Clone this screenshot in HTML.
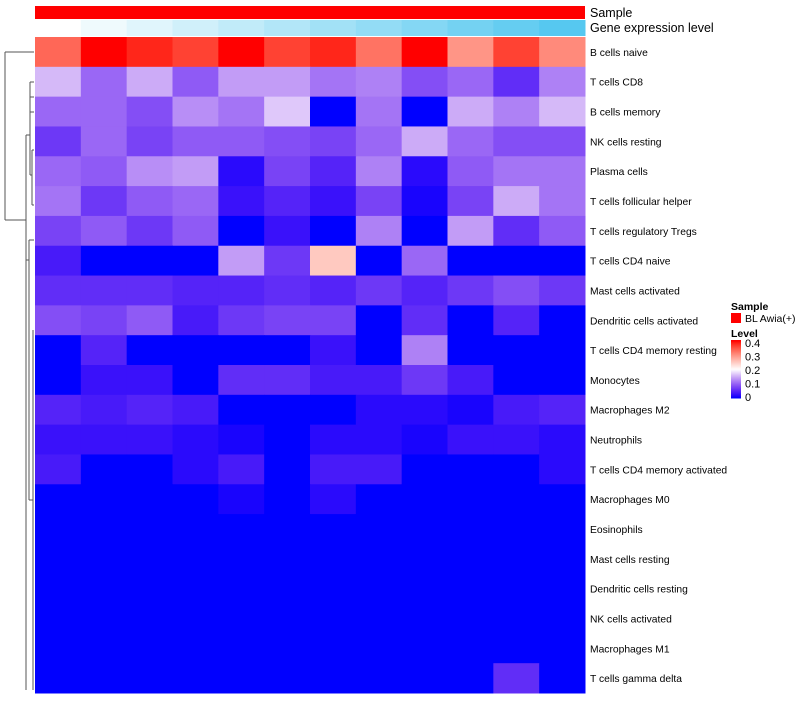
<!DOCTYPE html>
<html><head><meta charset="utf-8"><style>
body{margin:0;background:#fff;font-family:"Liberation Sans",sans-serif}
svg text{font-family:"Liberation Sans",sans-serif}
</style></head><body>
<svg id="c" width="800" height="700" xmlns="http://www.w3.org/2000/svg"></svg>
<script>
const rows=["B cells naive","T cells CD8","B cells memory","NK cells resting","Plasma cells","T cells follicular helper","T cells regulatory  Tregs","T cells CD4 naive","Mast cells activated","Dendritic cells activated","T cells CD4 memory resting","Monocytes","Macrophages M2","Neutrophils","T cells CD4 memory activated","Macrophages M0","Eosinophils","Mast cells resting","Dendritic cells resting","NK cells activated","Macrophages M1","T cells gamma delta"];
const values=[
[0.36,0.43,0.41,0.39,0.43,0.39,0.41,0.35,0.43,0.32,0.39,0.33],
[0.17,0.11,0.16,0.10,0.15,0.15,0.12,0.13,0.09,0.11,0.06,0.13],
[0.11,0.11,0.09,0.14,0.12,0.18,0,0.12,0,0.16,0.13,0.17],
[0.07,0.11,0.08,0.10,0.10,0.09,0.08,0.11,0.16,0.11,0.09,0.09],
[0.11,0.10,0.14,0.15,0.02,0.08,0.05,0.13,0.02,0.10,0.12,0.12],
[0.12,0.07,0.10,0.11,0.03,0.05,0.03,0.08,0.01,0.08,0.16,0.12],
[0.08,0.10,0.07,0.10,0,0.03,0,0.13,0,0.15,0.06,0.10],
[0.04,0,0,0,0.15,0.07,0.27,0,0.11,0,0,0],
[0.06,0.06,0.06,0.05,0.05,0.06,0.05,0.07,0.05,0.07,0.09,0.07],
[0.09,0.08,0.10,0.04,0.07,0.08,0.08,0,0.06,0,0.05,0],
[0,0.05,0,0,0,0,0.03,0,0.13,0,0,0],
[0,0.03,0.03,0,0.06,0.06,0.04,0.04,0.07,0.04,0,0],
[0.05,0.04,0.05,0.04,0,0,0,0.02,0.02,0.01,0.04,0.05],
[0.03,0.03,0.03,0.02,0.01,0,0.02,0.02,0.01,0.03,0.03,0.02],
[0.04,0,0,0.02,0.04,0,0.04,0.04,0,0,0,0.02],
[0,0,0,0,0.01,0,0.02,0,0,0,0,0],
[0,0,0,0,0,0,0,0,0,0,0,0],
[0,0,0,0,0,0,0,0,0,0,0,0],
[0,0,0,0,0,0,0,0,0,0,0,0],
[0,0,0,0,0,0,0,0,0,0,0,0],
[0,0,0,0,0,0,0,0,0,0,0,0],
[0,0,0,0,0,0,0,0,0,0,0.06,0]];
const legendTicks=[0,0.1,0.2,0.3,0.4];
const NS="http://www.w3.org/2000/svg",svg=document.getElementById('c');
function el(t,a){const e=document.createElementNS(NS,t);for(const k in a)e.setAttribute(k,a[k]);svg.appendChild(e);return e;}
const X0=35,X1=585,Y0=37,Y1=693,nc=12,nr=rows.length,cw=(X1-X0)/nc,rh=(Y1-Y0)/nr;
const MID=0.215,MAX=0.43;
function col(v){let r,g,b;if(v<=MID){const t=v/MID;r=255*Math.pow(t,0.75);g=255*Math.pow(t,1.35);b=255-10*Math.sin(Math.PI*t);}else{const t=Math.min(1,(v-MID)/(MAX-MID));r=255;g=255*Math.pow(1-t,0.8);b=255*Math.pow(1-t,0.95);}return`rgb(${r|0},${g|0},${b|0})`;}
function xs(j){return X0+j*cw;} function ys(i){return Y0+i*rh;}
let e=el('rect',{x:X0,y:6,width:X1-X0,height:13,fill:'#ff0000'});

for(let j=0;j<nc;j++){const t=j/(nc-1);
e=el('rect',{x:xs(j),y:20,width:cw+0.5,height:16,fill:`rgb(${255-(255-86)*t|0},${255-(255-200)*t|0},${255-(255-240)*t|0})`});
}
e=el('text',{x:590,y:17,'font-size':12.5});e.textContent='Sample';
e=el('text',{x:590,y:32,'font-size':12.5});e.textContent='Gene expression level';
for(let i=0;i<nr;i++){for(let j=0;j<nc;j++){
e=el('rect',{x:xs(j),y:ys(i),width:cw+0.5,height:rh+0.5,fill:col(values[i][j])});
}
e=el('text',{x:590,y:ys(i)+rh/2+4,'font-size':10.3});e.textContent=rows[i];
}
const lines=[[5,52,34,52],[5,52,5,220],[5,220,26,220],[26,135,26,690],[26,135,30,135],[30,97,30,175],[30,97,34,97],[30,175,32,175],[32,150,32,205],[32,150,34,150],[32,205,34,205],[30,82,34,82],[30,82,30,112],[30,112,34,112],[26,260,29,260],[29,240,29,500],[29,240,34,240],[29,500,33,500],[33,330,33,690]];
for(const l of lines){e=el('line',{x1:l[0],y1:l[1],x2:l[2],y2:l[3],stroke:'#555','stroke-width':1});
}
e=el('text',{x:731,y:310,'font-size':10.5,'font-weight':'bold'});e.textContent='Sample';
e=el('rect',{x:731,y:313,width:10,height:10,fill:'#ff0000'});
e=el('text',{x:745,y:322,'font-size':10.5});e.textContent='BL Awia(+)';
e=el('text',{x:731,y:337,'font-size':10.5,'font-weight':'bold'});e.textContent='Level';
const gy0=397,gy1=343,gmax=0.43;
for(let k=0;k<58;k++){const v=gmax*k/57;e=el('rect',{x:731,y:gy0-k,width:10,height:1.5,fill:col(v)});
}
for(const t of legendTicks){const y=gy0-(t/0.4)*(gy0-gy1);
e=el('text',{x:745,y:y+4,'font-size':11});e.textContent=String(t);}
</script>
</body></html>
